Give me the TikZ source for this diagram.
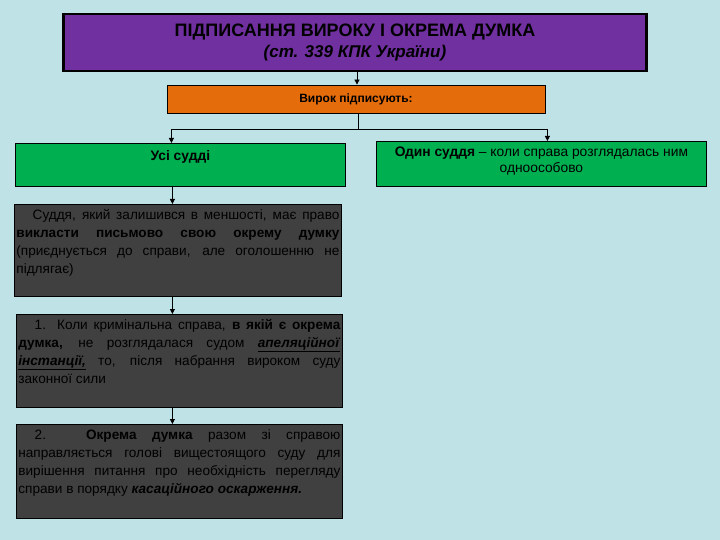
\documentclass[tikz,border=0pt]{standalone}
\usepackage{fontspec}
\setmainfont{Liberation Sans}
\usetikzlibrary{arrows.meta}
\definecolor{bgblue}{RGB}{191,226,231}
\definecolor{headpurple}{RGB}{112,48,160}
\definecolor{vyrokorange}{RGB}{228,108,10}
\definecolor{judgegreen}{RGB}{0,176,80}
\definecolor{opiniongray}{RGB}{64,64,64}
\newcommand{\boxtext}[3]{\parbox[t][#1][t]{#2}{#3}}
\begin{document}
\begin{tikzpicture}[x=1pt,y=-1pt]
		\tikzstyle{head-box}=[draw=black,fill=headpurple,line width=2.5pt,minimum width=583pt,minimum height=57pt,align=center,inner sep=0pt]
		\tikzstyle{vyrok-box}=[draw=black,fill=vyrokorange,thick,minimum width=378pt,minimum height=28pt,inner sep=0pt,font=\bfseries\fontsize{12}{14}\selectfont]
		\tikzstyle{judge-box}=[draw=black,fill=judgegreen,thick,anchor=north west,inner xsep=3pt,font=\fontsize{13.8}{16.5}\selectfont]
		\tikzstyle{opinion-box}=[draw=black,fill=opiniongray,thick,anchor=north west,inner xsep=2pt,inner ysep=5pt,font=\fontsize{13.6}{18}\selectfont]
		\tikzstyle{mapsto}=[-{Triangle[length=5pt,width=5pt]},thick]
		% background
		\fill [bgblue] (0,0) rectangle (720,540);
		\useasboundingbox (0,0) rectangle (720,540);
		% heading
		\node [head-box] at (355,42.5) (head) {{\bfseries\fontsize{18}{21}\selectfont ПІДПИСАННЯ ВИРОКУ І ОКРЕМА ДУМКА}\\[4pt]{\bfseries\itshape\fontsize{17}{21}\selectfont (ст. 339 КПК України)}};
		\node [vyrok-box] at (356,99) (vyrok) {Вирок підписують:};
		% judges
		\node [judge-box,inner ysep=7pt] at (15,143) (all) {\boxtext{29pt}{324pt}{\centering\bfseries Усі судді}};
		\node [judge-box,inner ysep=5pt] at (376,141) (one) {\boxtext{35pt}{324pt}{\centering\textbf{Один суддя} -- коли справа розглядалась ним\\одноособово}};
		% opinion
		\node [opinion-box] at (14,204) (op1) {\boxtext{82pt}{323pt}{\hspace*{1.2em}Суддя, який залишився в меншості, має право \textbf{викласти письмово свою окрему думку} (приєднується до справи, але оголошенню не підлягає)}};
		\node [opinion-box] at (16,314) (op2) {\boxtext{83pt}{322pt}{\hspace*{1.2em}1. Коли кримінальна справа, \textbf{в якій є окрема думка,} не розглядалася судом \underline{\textbf{\textit{апеляційної}}} \underline{\textbf{\textit{інстанції,}}} то, після набрання вироком суду законної сили}};
		\node [opinion-box] at (16,424) (op3) {\boxtext{84pt}{322pt}{\hspace*{1.2em}2. \textbf{Окрема думка} разом зі справою направляється голові вищестоящого суду для вирішення питання про необхідність перегляду справи в порядку \textbf{\textit{касаційного оскарження.}}}};
		% mapsto
		\draw [mapsto] ([xshift=2pt]head.south) -- ([xshift=2pt]head.south |- vyrok.north);
		\draw [thick] ([xshift=2pt]vyrok.south) -- ++(0,16) coordinate (split);
		\draw [mapsto] (split) -| ([xshift=-9pt]all.north);
		\draw [mapsto] (split) -| ([xshift=6pt]one.north);
		\draw [mapsto] ([xshift=-8pt]all.south) -- ([xshift=-8pt]all.south |- op1.north);
		\draw [mapsto] ([xshift=-8pt]all.south |- op1.south) -- ([xshift=-8pt]all.south |- op2.north);
		\draw [mapsto] ([xshift=-8pt]all.south |- op2.south) -- ([xshift=-8pt]all.south |- op3.north);
	\end{tikzpicture}
\end{document}
